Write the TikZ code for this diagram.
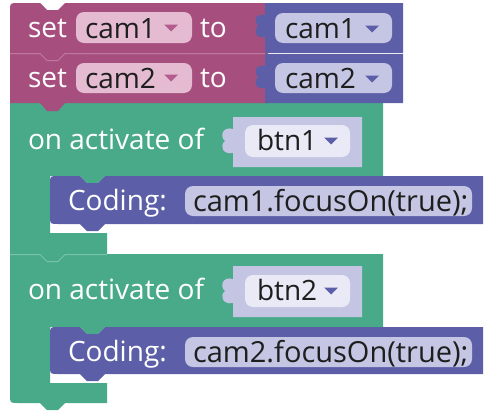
\documentclass[tikz,border=0pt]{standalone}
\usepackage{fontspec}
\setmainfont{Open Sans}
\newcommand\blkfont{\fontsize{28}{33}\selectfont}
\newcommand\codefont{\fontsize{29}{34}\selectfont}
\newcommand\ddtri[3]{\fill[#3] (#1-7,#2-3.5) -- (#1+7,#2-3.5) -- (#1,#2+3.5) -- cycle;}
\definecolor{mag}{RGB}{166,79,126}
\definecolor{maglight}{RGB}{190,120,160}
\definecolor{pinkf}{RGB}{229,187,210}
\definecolor{pinktri}{RGB}{180,92,142}
\definecolor{ind}{RGB}{92,95,168}
\definecolor{lavf}{RGB}{197,198,228}
\definecolor{grn}{RGB}{73,170,138}
\definecolor{grnlight}{RGB}{120,196,170}
\definecolor{btnb}{RGB}{196,197,227}
\definecolor{btnf}{RGB}{233,234,246}
\definecolor{txtdark}{RGB}{30,30,30}
\begin{document}
\begin{tikzpicture}[x=1pt,y=-1pt,
  every node/.style={inner sep=0pt,outer sep=0pt},
  lbl/.style={text=white,anchor=base west,font=\blkfont},
  ftxt/.style={text=txtdark,anchor=base west,font=\blkfont},
  ctxt/.style={text=txtdark,anchor=base west,font=\codefont},
  fieldbox/.style={rounded corners=8pt}]
\useasboundingbox (0,0) rectangle (500,415);

% ---- green block 2 ----
\fill[grn] (10,254) -- (383,254) -- (383,327) -- (105,327) -- (98,334) -- (87,334) -- (80,327)
  -- (50,327) -- (50,383) -- (107,383) -- (107,403) -- (65,403) -- (58,410) -- (47,410) -- (40,403)
  -- (18,403) .. controls (10,403) .. (10,395) -- cycle;
% ---- green block 1 ----
\fill[grn] (10,103) -- (383,103) -- (383,176) -- (105,176) -- (98,183) -- (87,183) -- (80,176)
  -- (50,176) -- (50,233) -- (107,233) -- (107,254) -- (65,254) -- (58,261) -- (47,261) -- (40,254)
  -- (10,254) -- cycle;
\draw[grnlight,line width=1pt] (10,254.5) -- (40,254.5) -- (47,261.5) -- (58,261.5) -- (65,254.5) -- (107,254.5);

% ---- magenta set blocks ----
\fill[mag] (10,53) -- (268,53) -- (268,103) -- (65,103) -- (58,111) -- (47,111) -- (40,103) -- (10,103) -- cycle;
\fill[mag] (10,11) .. controls (10,3) .. (18,3) -- (40,3) -- (47,10) -- (58,10) -- (65,3) -- (268,3)
  -- (268,53) -- (65,53) -- (58,60) -- (47,60) -- (40,53) -- (10,53) -- cycle;
\draw[maglight,line width=1pt] (10,53.5) -- (40,53.5) -- (47,60.5) -- (58,60.5) -- (65,53.5) -- (265,53.5);

% ---- value blocks cam1 / cam2 ----
\fill[ind] (265,3) -- (403,3) -- (403,53) -- (265,53) -- (265,37)
  .. controls (255,39) and (253,30) .. (258,26) .. controls (253,22) and (255,13) .. (265,15) -- cycle;
\fill[ind] (265,54) -- (403,54) -- (403,103) -- (265,103) -- (265,88)
  .. controls (255,90) and (253,81) .. (258,77) .. controls (253,73) and (255,64) .. (265,66) -- cycle;

% fields row 1/2
\fill[pinkf,fieldbox] (76,12) rectangle (192,43);
\fill[pinkf,fieldbox] (76,63) rectangle (192,93);
\fill[lavf,fieldbox] (275,13) rectangle (392,43);
\fill[lavf,fieldbox] (275,63) rectangle (392,93);

\node[lbl] (set1) at (28,37) {set};
\node[ftxt] (var1) at (85,38) {cam1};
\ddtri{171}{28}{pinktri}
\node[lbl] (to1) at (200,37) {to};
\node[ftxt] (val1) at (285,38) {cam1};
\ddtri{372}{29}{ind}

\node[lbl] (set2) at (28,87) {set};
\node[ftxt] (var2) at (85,88) {cam2};
\ddtri{171}{78}{pinktri}
\node[lbl] (to2) at (200,87) {to};
\node[ftxt] (val2) at (285,88) {cam2};
\ddtri{372}{79}{ind}

% ---- btn value blocks ----
\fill[btnb] (233,117) -- (362,117) -- (362,167) -- (233,167) -- (233,153)
  .. controls (223,155) and (219,146) .. (225,141) .. controls (219,136) and (223,126) .. (233,129) -- cycle;
\fill[btnf,fieldbox] (245,125) rectangle (350,157);
\fill[btnb] (233,266) -- (362,266) -- (362,317) -- (233,317) -- (233,303)
  .. controls (223,305) and (219,296) .. (225,291) .. controls (219,286) and (223,276) .. (233,279) -- cycle;
\fill[btnf,fieldbox] (245,275) rectangle (350,307);

\node[lbl] (on1) at (28,149) {on activate of};
\node[ftxt] (btn1) at (257,150) {btn1};
\ddtri{331}{141}{ind}
\node[lbl] (on2) at (28,299) {on activate of};
\node[ftxt] (btn2) at (257,300) {btn2};
\ddtri{331}{291}{ind}

% ---- coding blocks ----
\fill[ind] (50,184) .. controls (50,176) .. (58,176) -- (80,176) -- (87,183) -- (98,183) -- (105,176)
  -- (483,176) -- (483,224) -- (105,224) -- (98,231) -- (87,231) -- (80,224) -- (58,224)
  .. controls (50,224) .. (50,216) -- cycle;
\fill[lavf,fieldbox] (185,186) rectangle (472,216);
\node[lbl] (cod1) at (68,210) {Coding:};
\node[ctxt] (code1) at (193,211) {cam1.focusOn(true);};

\fill[ind] (50,335) .. controls (50,327) .. (58,327) -- (80,327) -- (87,334) -- (98,334) -- (105,327)
  -- (483,327) -- (483,374) -- (105,374) -- (98,381) -- (87,381) -- (80,374) -- (58,374)
  .. controls (50,374) .. (50,366) -- cycle;
\fill[lavf,fieldbox] (185,337) rectangle (472,367);
\node[lbl] (cod2) at (68,361) {Coding:};
\node[ctxt] (code2) at (193,362) {cam2.focusOn(true);};
\end{tikzpicture}
\end{document}
